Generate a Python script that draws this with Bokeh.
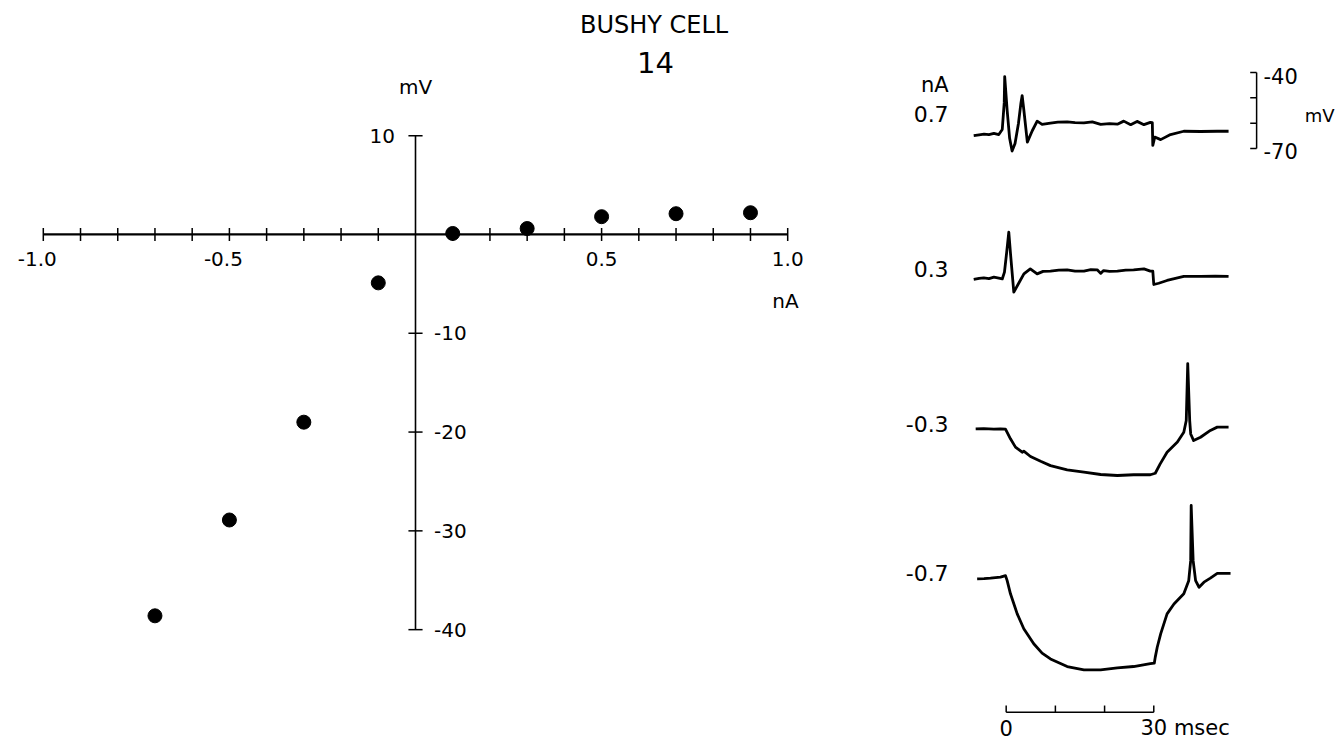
from bokeh.plotting import figure
from bokeh.layouts import row
from bokeh.models import Range1d
from bokeh.core.properties import value
from bokeh.embed import file_html
from bokeh.resources import INLINE

FONT = "DejaVu Sans"

# ---------------- I-V data (left panel) ----------------
current_nA = [-0.7, -0.5, -0.3, -0.1, 0.1, 0.3, 0.5, 0.7, 0.9]
voltage_mV = [-38.6, -28.9, -19.0, -4.9, 0.1, 0.6, 1.8, 2.1, 2.2]

x_ticks = [-1.0, -0.9, -0.8, -0.7, -0.6, -0.5, -0.4, -0.3, -0.2, -0.1,
           0.1, 0.2, 0.3, 0.4, 0.5, 0.6, 0.7, 0.8, 0.9, 1.0]
x_neg_label_pos = [-1.0, -0.5]
x_neg_labels = ["-1.0", "-0.5"]
x_pos_label_pos = [0.5, 1.0]
x_pos_labels = ["0.5", "1.0"]
y_ticks = [10, -10, -20, -30, -40]
y_top_label_pos = [10]
y_top_labels = ["10"]
y_neg_label_pos = [-10, -20, -30, -40]
y_neg_labels = ["-10", "-20", "-30", "-40"]

# ---------------- traces (right panel) ----------------
trace_currents = ["0.7", "0.3", "-0.3", "-0.7"]
trace_offsets = [0, 57, 116, 175]   # vertical stacking of traces (mV units)

t_07 = [-6.6, -5.5, -4.5, -3.5, -2.5, -1.5, -0.8, -0.4, -0.3, 0.2, 0.7, 1.2, 1.8,
        2.5, 3.0, 3.25, 3.6, 4.3, 5.3, 6.3, 7.3, 9.0, 10.5, 12.4, 14.0, 15.8, 17.5,
        19.2, 21.0, 22.6, 23.9, 25.3, 26.6, 28.0, 29.3, 29.7, 29.8, 30.2, 31.4, 33.4,
        36.1, 39.5, 42.9, 45.2]
v_07 = [-64.9, -64.6, -64.3, -64.5, -64.0, -64.5, -62.5, -52.0, -41.6, -55.0, -66.0,
        -71.0, -68.0, -60.0, -52.0, -49.1, -55.0, -67.5, -63.0, -59.2, -60.5, -60.0,
        -59.6, -59.5, -59.8, -59.9, -59.5, -60.5, -60.2, -60.4, -59.2, -60.6, -59.3,
        -60.6, -59.7, -59.8, -68.8, -65.5, -66.5, -64.5, -63.2, -63.3, -63.2, -63.2]

t_03 = [-6.6, -5.5, -4.55, -3.5, -2.5, -1.5, -0.8, -0.35, 0.1, 0.53, 0.9, 1.55, 2.6,
        3.6, 4.9, 6.3, 7.5, 9.0, 10.7, 12.4, 14.0, 15.8, 17.2, 18.5, 19.2, 19.8, 21.0,
        22.6, 24.3, 25.9, 28.0, 29.3, 29.8, 30.0, 31.0, 32.7, 36.1, 39.5, 42.5, 45.2]
v_03 = [-64.7, -64.3, -64.1, -64.4, -63.8, -64.2, -64.5, -61.8, -54.0, -46.0, -55.0,
        -69.7, -66.0, -62.5, -60.5, -62.5, -61.5, -61.4, -61.0, -60.9, -61.4, -61.4,
        -60.8, -60.9, -62.3, -61.2, -61.5, -61.4, -61.0, -60.9, -60.5, -61.4, -61.4,
        -66.7, -66.2, -65.1, -63.5, -63.5, -63.4, -63.5]

t_m03 = [-6.2, -4.55, -2.5, -1.16, -0.14, 0.87, 1.89, 3.25, 3.58, 4.94, 7.0, 9.0,
         12.4, 15.8, 19.2, 22.6, 25.9, 29.3, 30.3, 31.3, 32.7, 34.8, 36.1, 36.6, 36.9,
         37.3, 37.5, 38.1, 39.5, 41.5, 42.9, 45.2]
v_m03 = [-64.7, -64.6, -64.8, -64.7, -64.8, -68.6, -71.9, -73.9, -73.5, -75.6, -77.5,
         -79.2, -80.9, -81.8, -82.7, -83.1, -82.8, -82.8, -82.2, -78.5, -73.9, -69.9,
         -66.0, -61.4, -38.9, -61.4, -66.7, -69.3, -68.0, -65.3, -64.0, -64.0]

t_m07 = [-5.9, -4.5, -3.19, -1.16, -0.14, 0.2, 0.87, 2.24, 3.58, 5.6, 7.3, 9.0, 12.4,
         15.8, 19.2, 22.6, 25.9, 29.3, 30.1, 30.3, 30.7, 31.4, 32.7, 34.1, 36.1, 37.1,
         37.5, 37.6, 38.0, 38.5, 39.2, 40.2, 41.5, 42.9, 45.6]
v_m07 = [-64.9, -64.8, -64.6, -64.2, -63.6, -65.6, -70.8, -78.7, -84.6, -90.5, -94.2,
         -96.5, -99.5, -100.8, -100.8, -100.0, -99.5, -98.4, -98.2, -95.8, -91.9,
         -86.6, -78.7, -74.8, -70.8, -65.6, -57.7, -35.9, -57.7, -65.6, -68.2, -66.2,
         -64.6, -62.7, -62.7]

trace_t = [t_07, t_03, t_m03, t_m07]
trace_v = [v_07, v_03, v_m03, v_m07]

time_bar_ticks = [0, 10, 20, 30]
volt_bar_ticks = [-40, -50, -60, -70]


def bare(p):
    p.outline_line_color = None
    p.grid.visible = False
    p.background_fill_color = "white"
    p.border_fill_color = "white"
    p.min_border = 0
    p.min_border_left = 0
    p.min_border_right = 0
    p.min_border_top = 0
    p.min_border_bottom = 0


def label(p, x, y, text, size, align="center"):
    p.text(x=x, y=y, text=text, text_font=value(FONT), text_font_size=value(size),
           text_align=align, text_baseline="middle", text_color="black")


# ================= LEFT PANEL =================
p1 = figure(width=860, height=741, x_range=Range1d(-1.115, 1.1956),
            y_range=Range1d(-51.32, 23.68), output_backend="svg",
            toolbar_location=None, x_axis_location=None, y_axis_location=None)
bare(p1)

# axis lines
p1.segment(x0=[x_ticks[0]], y0=[0], x1=[x_ticks[-1]], y1=[0], line_color="black", line_width=2.2)
p1.segment(x0=[0], y0=[max(y_ticks)], x1=[0], y1=[min(y_ticks)], line_color="black", line_width=1.6)
# tick marks
htx = 0.65   # half tick length (mV units)
p1.segment(x0=x_ticks, y0=[-htx] * len(x_ticks), x1=x_ticks, y1=[htx] * len(x_ticks),
           line_color="black", line_width=1.5)
hty = 0.019  # half tick length (nA units)
p1.segment(x0=[-hty] * len(y_ticks), y0=y_ticks, x1=[hty] * len(y_ticks), y1=y_ticks,
           line_color="black", line_width=1.5)

# tick labels
p1.text(x=x_neg_label_pos, y=[-2.45] * len(x_neg_label_pos), text=x_neg_labels,
        text_font=value(FONT), text_font_size=value("20px"), text_align="center",
        text_baseline="middle", x_offset=-6, text_color="black")
label(p1, x_pos_label_pos, [-2.45] * len(x_pos_label_pos), x_pos_labels, "20px")
label(p1, [-0.055] * len(y_top_label_pos), y_top_label_pos, y_top_labels, "20px", "right")
label(p1, [0.05] * len(y_neg_label_pos), y_neg_label_pos, y_neg_labels, "20px", "left")

# axis titles
label(p1, [0.0], [14.9], ["mV"], "20px")
label(p1, [0.994], [-6.7], ["nA"], "20px")

# title
label(p1, [0.641], [21.15], ["BUSHY CELL"], "24px")
label(p1, [0.645], [17.4], ["14"], "29px")

# data points
p1.scatter(x=current_nA, y=voltage_mV, size=14, marker="circle",
           fill_color="black", line_color="black")

# ================= RIGHT PANEL =================
p2 = figure(width=477, height=741, x_range=Range1d(-29.61, 67.34),
            y_range=Range1d(-304.1, -11.58), output_backend="svg",
            toolbar_location=None, x_axis_location=None, y_axis_location=None)
bare(p2)

for t, v, off in zip(trace_t, trace_v, trace_offsets):
    p2.line(x=t, y=[vv - off for vv in v], line_color="black", line_width=2.8,
            line_join="round")

# trace current labels
label(p2, [-11.7] * len(trace_currents), [-56.2, -117.4, -178.6, -237.4],
      trace_currents, "22px", "right")
label(p2, [-11.7], [-45.1], ["nA"], "21px", "right")

# voltage calibration bracket
vb_x = 50.9
p2.segment(x0=[vb_x], y0=[max(volt_bar_ticks)], x1=[vb_x], y1=[min(volt_bar_ticks)],
           line_color="black", line_width=1.5)
p2.segment(x0=[vb_x - 1.3] * len(volt_bar_ticks), y0=volt_bar_ticks,
           x1=[vb_x] * len(volt_bar_ticks), y1=volt_bar_ticks,
           line_color="black", line_width=1.5)
label(p2, [52.3, 52.3], [-41.5, -71.0], ["-40", "-70"], "21px", "left")
label(p2, [60.7], [-57.0], ["mV"], "18px", "left")

# time calibration bar
tb_y = -292.6
p2.segment(x0=[min(time_bar_ticks)], y0=[tb_y], x1=[max(time_bar_ticks)], y1=[tb_y],
           line_color="black", line_width=1.5)
p2.segment(x0=time_bar_ticks, y0=[tb_y] * len(time_bar_ticks), x1=time_bar_ticks,
           y1=[tb_y + 2.7] * len(time_bar_ticks), line_color="black", line_width=1.5)
label(p2, [0], [-298.6], ["0"], "21px")
label(p2, [27.3], [-298.6], ["30 msec"], "21px", "left")

layout = row(p1, p2)
open("out.html", "w").write(file_html(layout, INLINE))
